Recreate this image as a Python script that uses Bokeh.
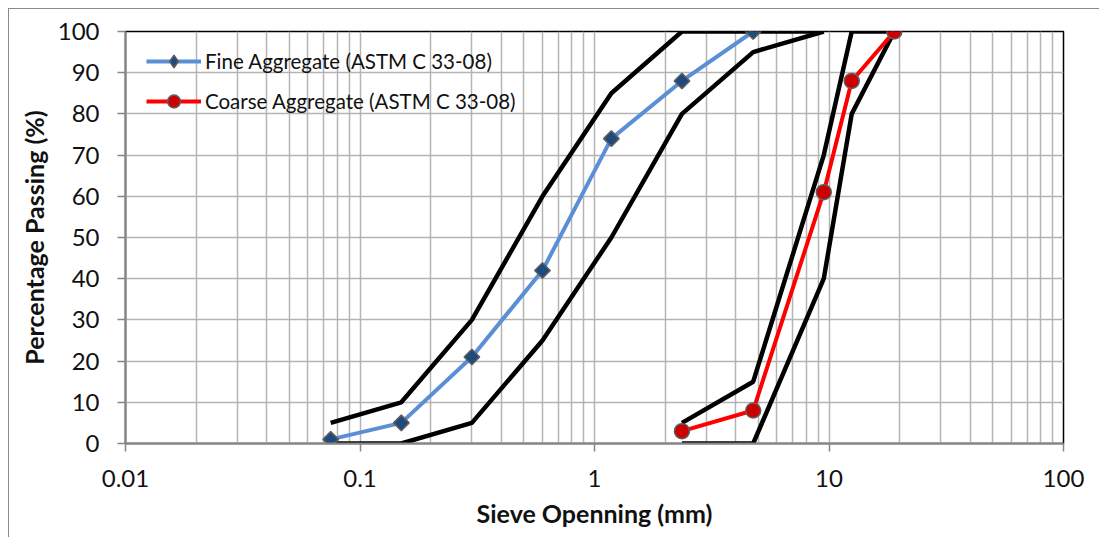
import math
from bokeh.plotting import figure
from bokeh.models import FixedTicker, CustomJSTickFormatter, Legend, LegendItem
from bokeh.embed import file_html
from bokeh.resources import INLINE

# ---- data ----
sieve_fine = [0.075, 0.15, 0.3, 0.6, 1.18, 2.36, 4.75]
fine_passing = [1, 5, 21, 42, 74, 88, 100]

fine_limit_sieve = [0.075, 0.15, 0.3, 0.6, 1.18, 2.36, 4.75, 9.5]
fine_upper = [5, 10, 30, 60, 85, 100, 100, 100]
fine_lower = [0, 0, 5, 25, 50, 80, 95, 100]

sieve_coarse = [2.36, 4.75, 9.5, 12.5, 19]
coarse_passing = [3, 8, 61, 88, 100]
coarse_upper = [5, 15, 70, 100, 100]
coarse_lower = [0, 0, 40, 80, 100]

x_ticks = [0.01, 0.1, 1, 10, 100]
x_minor = [m * d for d in [0.01, 0.1, 1, 10] for m in range(2, 10)]
y_ticks = list(range(0, 101, 10))

FONT = "Lato"

p = figure(
    width=1090, height=528,
    frame_width=938, frame_height=412,
    min_border_left=116, min_border_right=36,
    min_border_top=22, min_border_bottom=94,
    x_axis_type="log", x_range=(0.01, 100), y_range=(0, 100),
    output_backend="svg", toolbar_location=None,
)
p.styles = {"margin-left": "8px", "margin-top": "8px",
            "border-left": "1px solid #8a8a8a", "border-top": "1px solid #8a8a8a"}

p.outline_line_color = "black"
p.outline_line_width = 1.5

# axes
p.xaxis.ticker = FixedTicker(ticks=x_ticks, minor_ticks=x_minor)
p.xaxis.formatter = CustomJSTickFormatter(code="return tick.toString();")
p.yaxis.ticker = FixedTicker(ticks=y_ticks)
for ax in (p.xaxis[0], p.yaxis[0]):
    ax.axis_line_color = "#868686"
    ax.axis_line_width = 2
    ax.major_tick_line_color = "#868686"
    ax.major_tick_line_width = 1.5
    ax.major_tick_out = 8
    ax.major_tick_in = 0
    ax.minor_tick_out = 0
    ax.minor_tick_in = 0
    ax.major_label_text_font = FONT
    ax.major_label_text_font_size = "24px"
    ax.major_label_text_color = "#111111"
    ax.axis_label_text_font = FONT
    ax.axis_label_text_font_style = "bold"
    ax.axis_label_text_font_size = "25px"
    ax.axis_label_text_color = "#111111"

p.xaxis.axis_label = "Sieve Openning (mm)"
p.yaxis.axis_label = "Percentage Passing (%)"
p.yaxis.major_label_standoff = 18
p.xaxis.major_label_standoff = 18
p.xaxis.axis_label_standoff = 8
p.yaxis.axis_label_standoff = 6

# grid
p.xgrid.grid_line_color = "#b4b4b4"
p.xgrid.grid_line_width = 1.5
p.xgrid.minor_grid_line_color = "#b4b4b4"
p.xgrid.minor_grid_line_width = 1.5
p.ygrid.grid_line_color = "#b4b4b4"
p.ygrid.grid_line_width = 1.5

# limit lines
for xs, ys in [(fine_limit_sieve, fine_upper), (fine_limit_sieve, fine_lower),
               (sieve_coarse, coarse_upper), (sieve_coarse, coarse_lower)]:
    p.line(xs, ys, line_color="black", line_width=4.5)

FINE_LINE = "#5a8fd6"
FINE_FILL = "#1f4a7c"
COARSE_LINE = "#ff0000"
COARSE_FILL = "#cc0000"
EDGE = "#5f5f5f"

# fine aggregate
fl = p.line(sieve_fine, fine_passing, line_color=FINE_LINE, line_width=4)
# diamond used for the legend glyph (fully covered by the markers drawn above it)
fm_leg = p.scatter(sieve_fine, fine_passing, marker="diamond", size=14,
                   fill_color=FINE_FILL, line_color=EDGE, line_width=1.5)
p.scatter(sieve_fine, fine_passing, marker="square", size=11, angle=math.pi / 4,
          fill_color=FINE_FILL, line_color=EDGE, line_width=1.5)

# coarse aggregate
cl = p.line(sieve_coarse, coarse_passing, line_color=COARSE_LINE, line_width=4)
cm = p.scatter(sieve_coarse, coarse_passing, marker="circle", size=15,
               fill_color=COARSE_FILL, line_color=EDGE, line_width=1.5)

legend = Legend(
    items=[
        LegendItem(label="Fine Aggregate (ASTM C 33-08)", renderers=[fl, fm_leg]),
        LegendItem(label="Coarse Aggregate (ASTM C 33-08)", renderers=[cl, cm]),
    ],
    location=(21, 326),
    background_fill_alpha=0, border_line_alpha=0,
    label_text_font=FONT, label_text_font_size="20.5px", label_text_color="#111111",
    glyph_width=55, glyph_height=32, label_height=20, spacing=8,
    label_standoff=4, padding=0, margin=0,
)
p.add_layout(legend)

open("out.html", "w").write(file_html(p, INLINE))
